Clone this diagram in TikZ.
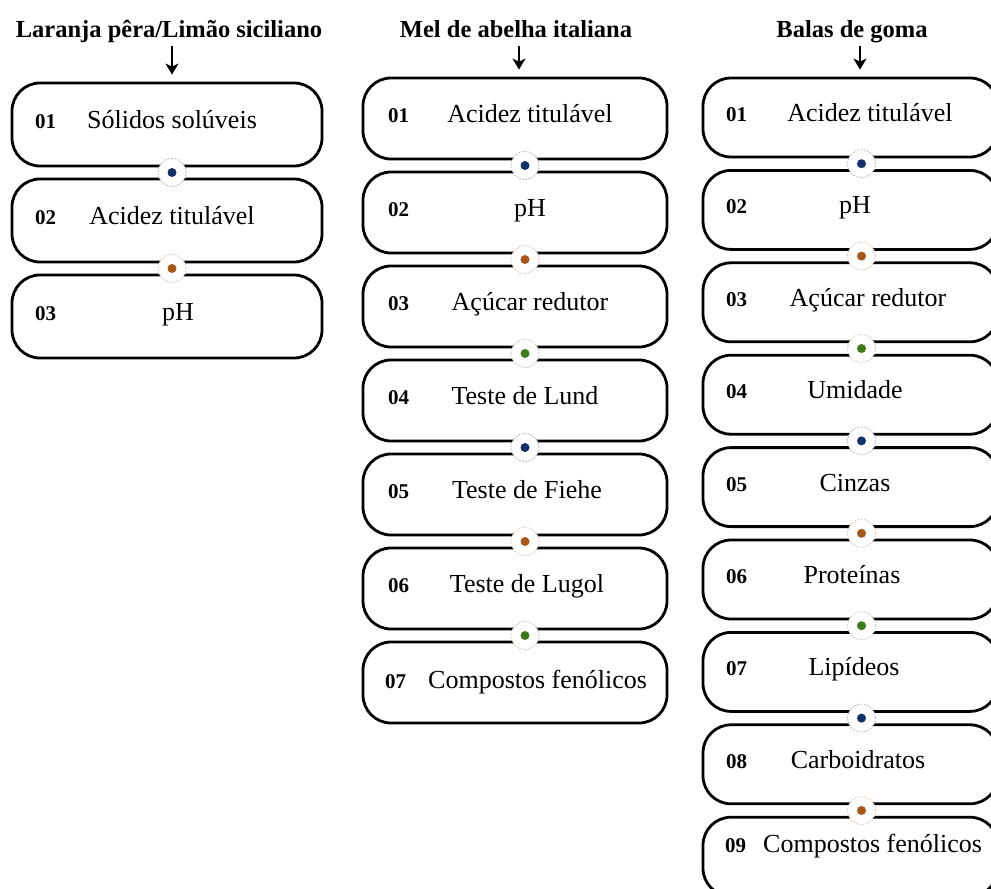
\documentclass[tikz,border=0pt]{standalone}
\usepackage{fontspec}
\setmainfont{Liberation Serif}
\usetikzlibrary{arrows.meta,calc}
\definecolor{dblue}{HTML}{13306B}
\definecolor{dorange}{HTML}{A8561A}
\definecolor{dgreen}{HTML}{3F7A1A}
\begin{document}
\begin{tikzpicture}[x=1pt,y=-1pt,
 stepbox/.style={draw,line width=2.8pt,rounded corners=28pt,inner sep=0pt},
 numtxt/.style={font=\fontsize{21}{24}\selectfont\bfseries,anchor=base west,inner sep=0pt},
 labtxt/.style={font=\fontsize{26}{30}\selectfont,anchor=base,inner sep=0pt},
 labw/.style={font=\fontsize{26}{30}\selectfont,anchor=base west,inner sep=0pt},
 headtxt/.style={font=\fontsize{24.5}{28}\selectfont\bfseries,anchor=base,inner sep=0pt},
 dotring/.style={circle,fill=white,draw=#1!35,dash pattern=on 1.5pt off 1.5pt,line width=0.9pt,
   minimum size=28pt,inner sep=0pt,
   path picture={\fill[#1] (path picture bounding box.center) circle (4.5pt);}},
 arr/.style={-{Stealth[length=11pt,width=13pt,inset=3pt]},line width=2.2pt,shorten >=7pt}
]
\useasboundingbox (0,0) rectangle (991,889);
\clip (0,0) rectangle (991,889);

% headers
\node[headtxt] (h1) at (169,37) {Laranja pêra/Limão siciliano};
\node[headtxt] (h2) at (516,37) {Mel de abelha italiana};
\node[headtxt] (h3) at (852,37) {Balas de goma};

% column 1
\foreach \i/\num/\lab/\lx in {1/01/Sólidos solúveis/172,2/02/Acidez titulável/172,3/03/pH/178}{
  \pgfmathsetmacro\cy{124.5+96*(\i-1)}
  \node[stepbox,minimum width=310pt,minimum height=83pt] (c1b\i) at (167,\cy) {};
  \node[numtxt] (c1n\i) at (35,{\cy+4}) {\num};
  \node[labtxt] (c1l\i) at (\lx,{\cy+4}) {\lab};
}
% column 2
\foreach \i/\num/\lab/\lx in {1/01/Acidez titulável/530,2/02/pH/530,3/03/Açúcar redutor/530,4/04/Teste de Lund/525,5/05/Teste de Fiehe/527,6/06/Teste de Lugol/527}{
  \pgfmathsetmacro\cy{118.5+94*(\i-1)}
  \node[stepbox,minimum width=304pt,minimum height=81pt] (c2b\i) at (515,\cy) {};
  \node[numtxt] (c2n\i) at (388,{\cy+4}) {\num};
  \node[labtxt] (c2l\i) at (\lx,{\cy+4}) {\lab};
}
\node[stepbox,minimum width=304pt,minimum height=81pt] (c2b7) at (515,682.5) {};
\node[numtxt] (c2n7) at (385,688) {07};
\node[labw] (c2l7) at (428,688) {Compostos fenólicos};

% column 3
\foreach \i/\num/\lab/\lx in {1/01/Acidez titulável/870,2/02/pH/855,3/03/Açúcar redutor/868,4/04/Umidade/855,5/05/Cinzas/855,6/06/Proteínas/852,7/07/Lipídeos/854,8/08/Carboidratos/858}{
  \pgfmathsetmacro\cy{117.5+92.4*(\i-1)}
  \node[stepbox,minimum width=295pt,minimum height=79pt] (c3b\i) at (850.5,\cy) {};
  \node[numtxt] (c3n\i) at (726,{\cy+4}) {\num};
  \node[labtxt] (c3l\i) at (\lx,{\cy+4}) {\lab};
}
\node[stepbox,minimum width=295pt,minimum height=79pt] (c3b9) at (850.5,856.7) {};
\node[numtxt] (c3n9) at (725,852) {09};
\node[labw] (c3l9) at (763,852) {Compostos fenólicos};

% arrows
\coordinate (a1) at (172,46);
\coordinate (a2) at (519,46);
\coordinate (a3) at (860,46);
\draw[arr] (a1) -- (c1b1.north -| a1);
\draw[arr] (a2) -- (c2b1.north -| a2);
\draw[arr] (a3) -- (c3b1.north -| a3);

% connector dots
\foreach \i/\c in {1/dblue,2/dorange}{
  \pgfmathtruncatemacro\j{\i+1}
  \node[dotring=\c] (c1d\i) at ($(c1b\i.south)!0.5!(c1b\j.north)+(5,0)$) {};
}
\foreach \i/\c in {1/dblue,2/dorange,3/dgreen,4/dblue,5/dorange,6/dgreen}{
  \pgfmathtruncatemacro\j{\i+1}
  \node[dotring=\c] (c2d\i) at ($(c2b\i.south)!0.5!(c2b\j.north)+(10,0)$) {};
}
\foreach \i/\c in {1/dblue,2/dorange,3/dgreen,4/dblue,5/dorange,6/dgreen,7/dblue,8/dorange}{
  \pgfmathtruncatemacro\j{\i+1}
  \node[dotring=\c] (c3d\i) at ($(c3b\i.south)!0.5!(c3b\j.north)+(11,0)$) {};
}
\end{tikzpicture}
\end{document}
